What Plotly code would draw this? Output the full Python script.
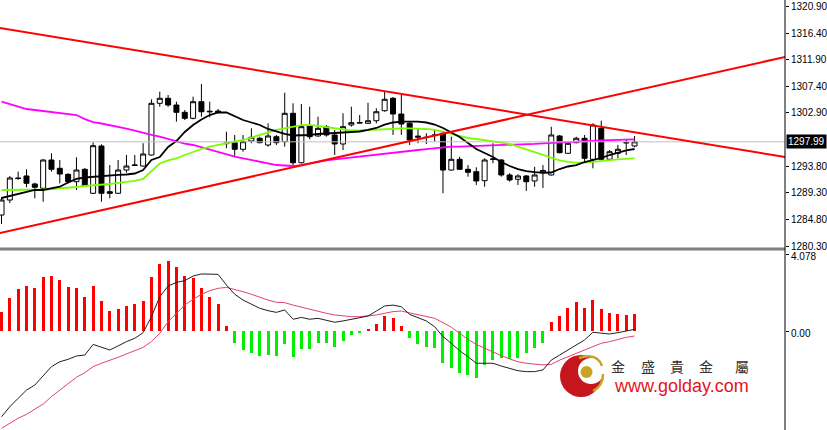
import plotly.graph_objects as go

# ---------------- data ----------------
bars = list(range(77))

opens = [1285.56, 1288.11, 1291.85, 1292.19, 1290.83, 1290.10, 1294.90, 1293.49, 1292.47, 1291.22,
         1293.32, 1289.25, 1297.28, 1289.52, 1289.25, 1293.20, 1293.97, 1293.88, 1295.75, 1304.53,
         1305.38, 1304.24, 1303.00, 1301.98, 1304.80, 1303.19, 1303.22, 1297.79, 1297.84, 1296.72,
         1298.13, 1298.59, 1297.45, 1298.86, 1298.01, 1302.83, 1294.44, 1300.67, 1298.98, 1300.56,
         1299.15, 1297.62, 1300.85, 1301.27, 1301.13, 1301.57, 1303.27, 1305.38, 1302.71, 1301.13,
         1298.76, 1298.76, 1299.15, 1299.44, 1293.20, 1295.02, 1293.32, 1292.92, 1291.39, 1294.99,
         1294.90, 1292.36, 1291.63, 1292.19, 1291.34, 1292.86, 1292.36, 1298.98, 1296.04, 1297.84,
         1298.59, 1295.02, 1300.28, 1295.02, 1296.04, 1297.79, 1297.28]
highs = [1288.62, 1292.19, 1292.92, 1293.32, 1291.05, 1295.02, 1296.04, 1294.90, 1292.64, 1295.36,
         1293.54, 1297.91, 1297.57, 1294.05, 1294.90, 1295.75, 1295.75, 1297.74, 1305.21, 1306.50,
         1305.94, 1304.80, 1303.39, 1305.65, 1307.81, 1304.80, 1303.56, 1299.71, 1299.15, 1299.15,
         1300.28, 1298.86, 1301.13, 1299.15, 1306.33, 1304.53, 1304.41, 1303.95, 1302.25, 1300.85,
         1300.00, 1302.83, 1303.95, 1302.54, 1304.63, 1303.68, 1306.50, 1305.60, 1305.94, 1301.35,
         1300.28, 1299.44, 1300.00, 1299.71, 1298.86, 1295.46, 1294.05, 1293.66, 1295.19, 1297.74,
         1295.07, 1292.64, 1292.47, 1292.36, 1293.76, 1294.05, 1300.56, 1299.15, 1298.01, 1298.86,
         1299.15, 1301.13, 1301.57, 1296.60, 1297.45, 1298.42, 1298.98]
lows = [1284.03, 1287.60, 1291.51, 1290.27, 1288.40, 1287.82, 1292.92, 1290.95, 1290.95, 1289.81,
        1290.32, 1289.13, 1287.82, 1288.40, 1289.13, 1292.75, 1293.88, 1293.80, 1295.67, 1303.95,
        1303.95, 1301.41, 1301.69, 1301.81, 1302.25, 1302.15, 1302.80, 1296.89, 1295.46, 1296.31,
        1297.74, 1297.74, 1297.16, 1297.45, 1297.16, 1293.76, 1294.31, 1298.42, 1298.86, 1298.86,
        1295.75, 1296.60, 1300.56, 1301.13, 1301.10, 1301.13, 1303.10, 1299.15, 1299.15, 1297.45,
        1297.74, 1297.62, 1298.01, 1289.25, 1293.12, 1293.20, 1292.07, 1290.66, 1290.37, 1294.34,
        1292.07, 1291.22, 1290.66, 1289.64, 1290.37, 1290.15, 1292.27, 1296.04, 1296.00, 1297.74,
        1294.61, 1293.49, 1294.90, 1294.90, 1295.19, 1295.75, 1297.06]
closes = [1288.11, 1291.85, 1291.76, 1290.95, 1290.27, 1294.90, 1293.32, 1292.52, 1291.22, 1293.20,
          1290.49, 1297.33, 1289.25, 1289.25, 1293.20, 1293.88, 1294.05, 1295.92, 1304.53, 1305.38,
          1304.24, 1303.00, 1301.98, 1304.80, 1303.10, 1303.10, 1302.97, 1297.69, 1296.72, 1298.01,
          1298.76, 1297.84, 1298.98, 1297.84, 1302.83, 1294.44, 1300.56, 1298.86, 1300.28, 1299.15,
          1297.62, 1300.56, 1301.24, 1301.19, 1301.57, 1303.10, 1305.21, 1302.71, 1301.01, 1298.30,
          1298.93, 1298.72, 1299.10, 1293.20, 1295.02, 1293.32, 1292.81, 1291.34, 1294.90, 1295.07,
          1292.36, 1291.51, 1292.19, 1291.22, 1292.36, 1293.12, 1299.15, 1296.14, 1297.74, 1298.59,
          1295.19, 1300.85, 1295.02, 1296.31, 1296.72, 1297.87, 1297.99]

ma_fast = [1288.45, 1288.79, 1289.13, 1289.55, 1289.81, 1289.81, 1290.06, 1290.37, 1291.08, 1291.68,
           1291.93, 1292.07, 1292.19, 1292.24, 1292.36, 1292.44, 1292.61, 1293.20, 1294.90, 1295.41,
           1297.11, 1298.13, 1299.66, 1300.85, 1301.78, 1302.54, 1303.00, 1302.97, 1302.37, 1301.69,
           1301.27, 1300.85, 1300.17, 1299.74, 1299.32, 1299.06, 1299.06, 1299.15, 1299.32, 1299.40,
           1299.40, 1299.49, 1299.57, 1299.74, 1300.00, 1300.34, 1300.90, 1301.27, 1301.41, 1301.41,
           1301.41, 1301.27, 1300.93, 1300.34, 1299.57, 1298.81, 1297.79, 1296.77, 1296.09, 1295.41,
           1294.56, 1293.88, 1293.37, 1293.03, 1292.86, 1292.74, 1292.78, 1293.37, 1293.80, 1294.05,
           1294.56, 1294.90, 1295.24, 1295.75, 1296.18, 1296.52, 1296.77]
ma_mid = [1289.81, 1289.81, 1289.81, 1289.81, 1289.89, 1289.89, 1289.98, 1290.06, 1290.15, 1290.32,
          1290.49, 1290.57, 1290.66, 1290.83, 1291.00, 1291.17, 1291.34, 1291.68, 1292.95, 1294.31,
          1294.82, 1295.19, 1295.75, 1296.31, 1296.77, 1297.16, 1297.45, 1297.74, 1298.01, 1298.30,
          1298.72, 1299.15, 1299.57, 1300.00, 1300.28, 1300.56, 1300.81, 1300.85, 1300.64, 1300.42,
          1300.28, 1300.08, 1299.91, 1299.91, 1300.00, 1300.08, 1300.17, 1300.20, 1300.28, 1300.28,
          1300.28, 1300.17, 1300.00, 1299.74, 1299.35, 1298.98, 1298.64, 1298.47, 1298.30, 1298.13,
          1297.87, 1297.62, 1297.14, 1296.69, 1296.18, 1295.70, 1295.24, 1294.85, 1294.60, 1294.44,
          1294.44, 1294.60, 1294.78, 1294.90, 1295.02, 1295.11, 1295.19]
ma_slow = [1304.80, 1304.41, 1303.90, 1303.56, 1303.39, 1303.22, 1303.05, 1302.88, 1302.83, 1302.54,
           1301.85, 1301.35, 1301.10, 1300.85, 1300.56, 1300.25, 1299.91, 1299.49, 1299.15, 1298.89,
           1298.47, 1298.04, 1297.70, 1297.45, 1297.03, 1296.60, 1296.18, 1295.75, 1295.46, 1295.19,
           1294.90, 1294.61, 1294.34, 1294.05, 1293.97, 1293.88, 1294.05, 1294.31, 1294.61, 1294.82,
           1294.99, 1295.16, 1295.33, 1295.50, 1295.67, 1295.84, 1296.04, 1296.18, 1296.31, 1296.46,
           1296.60, 1296.74, 1296.89, 1297.03, 1297.16, 1297.19, 1297.23, 1297.28, 1297.33, 1297.36,
           1297.41, 1297.45, 1297.52, 1297.59, 1297.65, 1297.74, 1297.79, 1297.87, 1297.96, 1298.01,
           1298.08, 1298.15, 1298.23, 1298.30, 1298.33, 1298.38, 1298.42]

trend_down = [(0, 1317.27), (76, 1299.61)]   # (bar, price) anchors
trend_up = [(0, 1282.56), (76, 1306.67)]
last_price = 1297.99
price_ticks = [1320.90, 1316.40, 1311.90, 1307.40, 1302.90, 1293.80, 1289.30, 1284.80, 1280.30]

macd_hist = [1.04, 1.77, 2.25, 2.41, 2.31, 2.90, 2.95, 2.74, 2.36, 2.31,
             1.82, 2.41, 1.61, 1.07, 1.18, 1.34, 1.45, 1.61, 2.90, 3.59,
             3.76, 3.43, 2.95, 2.84, 2.31, 1.82, 1.45, 0.27, -0.64, -1.02,
             -1.18, -1.34, -1.29, -1.34, -0.72, -1.38, -0.97, -0.97, -0.66, -0.63,
             -0.84, -0.52, -0.22, -0.09, 0.11, 0.38, 0.81, 0.68, 0.27, -0.39,
             -0.72, -0.84, -0.93, -1.74, -2.00, -2.24, -2.36, -2.50, -1.82, -1.56,
             -1.47, -1.52, -1.47, -1.20, -0.93, -0.66, 0.50, 0.81, 1.22, 1.54,
             1.22, 1.66, 1.16, 0.95, 0.89, 0.84, 0.89]
macd_main = [-4.60, -4.06, -3.61, -3.17, -2.90, -2.41, -1.91, -1.65, -1.52, -1.34,
             -1.29, -0.72, -0.88, -1.02, -0.80, -0.57, -0.39, -0.09, 0.77, 1.84,
             2.41, 2.61, 2.70, 2.95, 3.06, 3.07, 3.04, 2.47, 1.97, 1.66,
             1.43, 1.22, 1.09, 1.00, 1.13, 0.63, 0.73, 0.63, 0.68, 0.59,
             0.47, 0.54, 0.64, 0.72, 0.80, 1.07, 1.34, 1.39, 1.30, 0.89,
             0.72, 0.54, 0.23, -0.30, -0.66, -1.06, -1.38, -1.73, -1.73, -1.73,
             -1.88, -2.00, -2.13, -2.18, -2.18, -2.09, -1.56, -1.29, -1.02, -0.75,
             -0.48, -0.07, -0.12, -0.16, -0.09, -0.02, 0.09]
macd_signal = [-5.22, -4.95, -4.68, -4.47, -4.20, -3.92, -3.52, -3.17, -2.81, -2.48,
               -2.24, -1.91, -1.73, -1.59, -1.41, -1.23, -1.07, -0.88, -0.57, -0.12,
               0.50, 0.95, 1.39, 1.70, 1.97, 2.16, 2.29, 2.34, 2.24, 2.11,
               1.97, 1.81, 1.66, 1.54, 1.52, 1.39, 1.27, 1.16, 1.04, 0.95,
               0.86, 0.80, 0.77, 0.77, 0.80, 0.86, 0.95, 1.04, 1.07, 0.98,
               0.89, 0.80, 0.68, 0.45, 0.20, -0.12, -0.45, -0.72, -0.93, -1.11,
               -1.32, -1.50, -1.65, -1.73, -1.79, -1.82, -1.79, -1.56, -1.38, -1.20,
               -1.02, -0.80, -0.66, -0.57, -0.45, -0.34, -0.27]
macd_ticks = [4.078, 0.0]
macd_tick_labels = ["4.078", "0.00"]

# ---------------- layout geometry ----------------
W, H = 827, 430
PR = 785          # right edge of plotting area (px)
MAIN_BOTTOM = 248  # px
SUB_TOP = 251      # px
X_RANGE = [-0.18, 94.06]
Y_RANGE = [1279.96, 1322.07]
Y2_RANGE = [-5.311, 4.292]


def px(x):
    return x / PR


def py(y):
    return 1 - y / H


def extend(anchors, xs):
    (xa, ya), (xb, yb) = anchors
    k = (yb - ya) / (xb - xa)
    return [ya + k * (x - xa) for x in xs]


fig = go.Figure()

fig.add_trace(go.Candlestick(
    x=bars, open=opens, high=highs, low=lows, close=closes,
    increasing=dict(line=dict(color="black", width=1), fillcolor="white"),
    decreasing=dict(line=dict(color="black", width=1), fillcolor="black"),
    whiskerwidth=0, xaxis="x", yaxis="y", showlegend=False, hoverinfo="skip"))

fig.add_trace(go.Scatter(x=bars, y=ma_slow, mode="lines",
                         line=dict(color="#ff00ff", width=1.8), xaxis="x", yaxis="y"))
fig.add_trace(go.Scatter(x=bars, y=ma_mid, mode="lines",
                         line=dict(color="#7cfc00", width=1.8), xaxis="x", yaxis="y"))
fig.add_trace(go.Scatter(x=bars, y=ma_fast, mode="lines",
                         line=dict(color="black", width=1.8), xaxis="x", yaxis="y"))

ext_x = [-2, 97]
fig.add_trace(go.Scatter(x=ext_x, y=[last_price, last_price], mode="lines",
                         line=dict(color="#c0c0c0", width=1), xaxis="x", yaxis="y"))
fig.add_trace(go.Scatter(x=ext_x, y=extend(trend_down, ext_x), mode="lines",
                         line=dict(color="#ff0000", width=2), xaxis="x", yaxis="y"))
fig.add_trace(go.Scatter(x=ext_x, y=extend(trend_up, ext_x), mode="lines",
                         line=dict(color="#ff0000", width=2), xaxis="x", yaxis="y"))

hist_colors = ["#ff0000" if v >= 0 else "#00ee00" for v in macd_hist]
fig.add_trace(go.Bar(x=bars, y=macd_hist, marker=dict(color=hist_colors, line=dict(width=0)),
                     width=0.36, xaxis="x2", yaxis="y2"))
fig.add_trace(go.Scatter(x=bars, y=macd_signal, mode="lines",
                         line=dict(color="#e0446e", width=1), xaxis="x2", yaxis="y2"))
fig.add_trace(go.Scatter(x=bars, y=macd_main, mode="lines",
                         line=dict(color="#202020", width=1), xaxis="x2", yaxis="y2"))

tick_font = dict(family="Liberation Sans, Arial, sans-serif", size=10, color="black")

shapes = [
    # separator between panels
    dict(type="line", xref="paper", yref="paper", x0=0, x1=1, y0=py(249), y1=py(249),
         line=dict(color="#808080", width=3)),
    # right axis line
    dict(type="line", xref="paper", yref="paper", x0=1, x1=1, y0=0, y1=1,
         line=dict(color="black", width=1)),
]

# logo
def circle(cx, cy, r, color):
    return dict(type="circle", xref="paper", yref="paper",
                x0=px(cx - r), x1=px(cx + r), y0=py(cy + r), y1=py(cy - r),
                fillcolor=color, line=dict(width=0), layer="above")

shapes.append(circle(581, 376, 21, "#c4161c"))
shapes.append(circle(591, 371, 13, "white"))
shapes.append(circle(586.5, 372, 6, "#c9a227"))
shapes.append(dict(type="path", xref="paper", yref="paper",
                   path=f"M {px(579)},{py(358)} Q {px(597)},{py(352)} {px(602)},{py(366)}",
                   line=dict(color="#c9a227", width=2.5), layer="above"))
shapes.append(dict(type="path", xref="paper", yref="paper",
                   path=f"M {px(603)},{py(374)} Q {px(603)},{py(386)} {px(593)},{py(391)}",
                   line=dict(color="#c9a227", width=2.5), layer="above"))

annotations = [
    dict(xref="paper", yref="y", x=px(786), y=last_price, text="1297.99", showarrow=False,
         xanchor="left", yanchor="middle", bgcolor="black", borderpad=1,
         font=dict(family="Liberation Sans, Arial, sans-serif", size=10, color="white")),
    dict(xref="paper", yref="paper", x=px(681), y=py(386), text="www.golday.com", showarrow=False,
         xanchor="center", yanchor="middle",
         font=dict(family="Liberation Sans, Arial, sans-serif", size=18, color="#e5141c")),
]
for ch, cx in zip("金盛貴金屬", [618, 648, 677, 706, 742]):
    annotations.append(dict(xref="paper", yref="paper", x=px(cx), y=py(366), text=ch,
                            showarrow=False, xanchor="center", yanchor="middle",
                            font=dict(family="Noto Sans CJK TC", size=14, color="#333333")))

fig.update_layout(
    width=W, height=H,
    margin=dict(l=0, r=W - PR, t=0, b=0, autoexpand=False),
    paper_bgcolor="white", plot_bgcolor="white",
    showlegend=False, boxgap=0.4, boxgroupgap=0, bargap=0,
    xaxis=dict(domain=[0, 1], range=X_RANGE, visible=False, anchor="y", automargin=False,
               rangeslider=dict(visible=False), fixedrange=True),
    yaxis=dict(domain=[1 - MAIN_BOTTOM / H, 1], range=Y_RANGE, side="right", anchor="x",
               automargin=False, showgrid=False, zeroline=False, showline=False,
               ticks="outside", ticklen=3, tickcolor="black",
               tickvals=price_ticks, ticktext=[f"{v:.2f}" for v in price_ticks],
               tickfont=tick_font),
    xaxis2=dict(domain=[0, 1], range=X_RANGE, visible=False, anchor="y2", matches="x",
                automargin=False),
    yaxis2=dict(domain=[0, 1 - SUB_TOP / H], range=Y2_RANGE, side="right", anchor="x2",
                automargin=False, showgrid=False, zeroline=False, showline=False,
                ticks="outside", ticklen=3, tickcolor="black", ticklabelshift=2,
                tickvals=macd_ticks, ticktext=macd_tick_labels, tickfont=tick_font),
    shapes=shapes, annotations=annotations,
)

fig.write_html("out.html", config={"displayModeBar": False},
               post_script="document.body.style.margin='0';document.body.style.overflow='hidden';")
